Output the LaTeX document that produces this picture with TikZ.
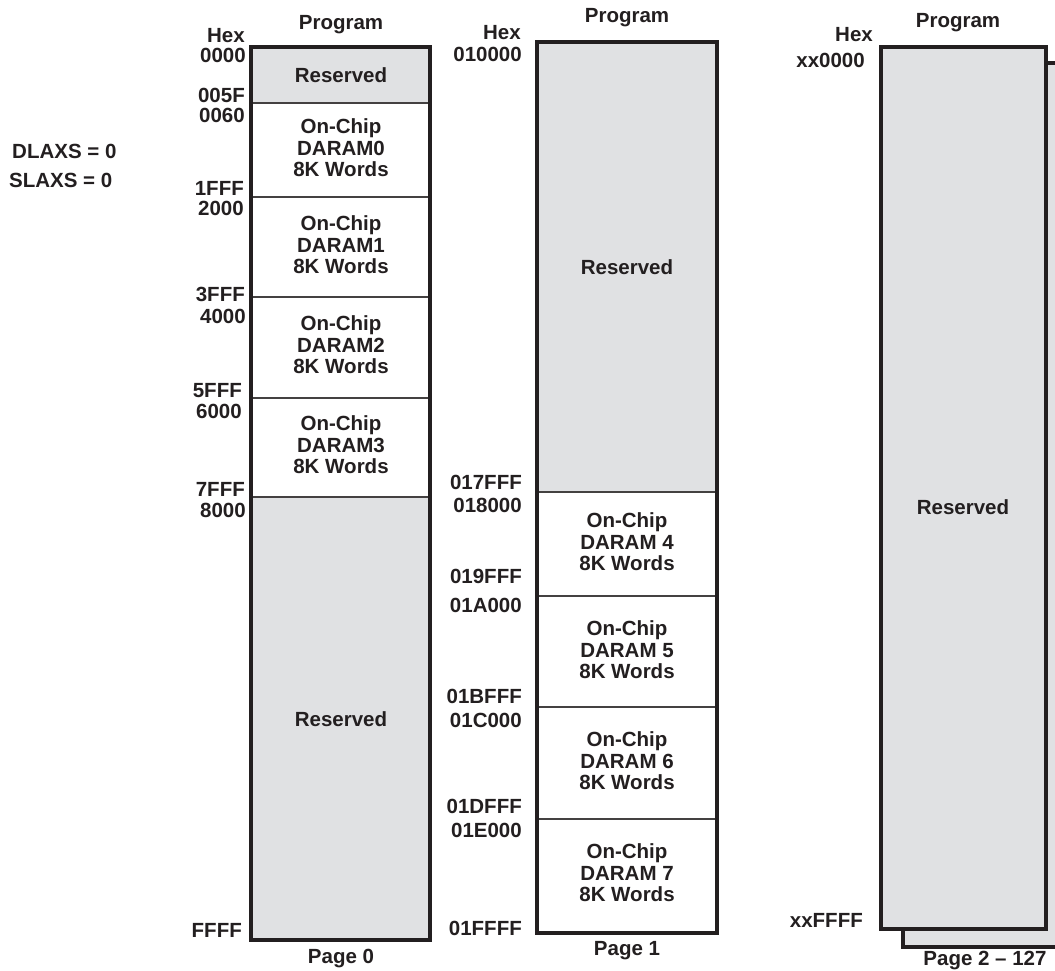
\documentclass[tikz,border=0pt]{standalone}
\usepackage{fontspec}
\setmainfont{Liberation Sans}
\definecolor{ink}{RGB}{35,31,32}
\definecolor{resv}{RGB}{224,225,227}
\begin{document}
\begin{tikzpicture}[x=1pt,y=-1pt,
  txt/.style={font=\fontsize{20.5}{21.5}\selectfont\bfseries, text=ink, inner sep=0pt, align=center},
  addr/.style={txt, anchor=base east},
  lbl/.style={txt, anchor=base},
  frame/.style={draw=ink, line width=3.2pt},
  divider/.style={draw=ink!85, line width=1.5pt},
  resfill/.style={fill=resv}]
\clip (0,0) rectangle (1055,971);
\fill[white] (0,0) rectangle (1055,971);

% left notes
\node[txt, anchor=base west] (dl) at (12,158) {DLAXS = 0};
\node[txt, anchor=base west] (sl) at (9,187) {SLAXS = 0};

% ---------- Page 0 ----------
\fill[resv] (251,47) rectangle (430,103);
\fill[resv] (251,497) rectangle (430,940);
\foreach \yy in {103,197,297,398,497} \draw[divider] (251,\yy) -- (430,\yy);
\draw[frame] (251,47) rectangle (430,940);
\node[lbl] (p0h) at (341,30) {Program};
\node[txt] (p0a) at (341,75) {Reserved};
\node[txt] (p0b) at (341,148) {On-Chip\\DARAM0\\8K Words};
\node[txt] (p0c) at (341,245) {On-Chip\\DARAM1\\8K Words};
\node[txt] (p0d) at (341,345) {On-Chip\\DARAM2\\8K Words};
\node[txt] (p0e) at (341,445) {On-Chip\\DARAM3\\8K Words};
\node[txt] (p0f) at (341,719) {Reserved};
\node[lbl] (p0p) at (341,963) {Page 0};
\node[addr] (a00) at (245,43) {Hex};
\node[addr] (a01) at (246,63) {0000};
\node[addr] (a02) at (245,103) {005F};
\node[addr] (a03) at (245,123) {0060};
\node[addr] (a04) at (244,196) {1FFF};
\node[addr] (a05) at (244,215) {2000};
\node[addr] (a06) at (245,301) {3FFF};
\node[addr] (a07) at (246,323) {4000};
\node[addr] (a08) at (242,397) {5FFF};
\node[addr] (a09) at (242,418) {6000};
\node[addr] (a10) at (245,496) {7FFF};
\node[addr] (a11) at (246,517) {8000};
\node[addr] (a12) at (242,937) {FFFF};

% ---------- Page 1 ----------
\fill[resv] (537,42) rectangle (717,492);
\foreach \yy in {492,596,707,819} \draw[divider] (537,\yy) -- (717,\yy);
\draw[frame] (537,42) rectangle (717,933);
\node[lbl] (p1h) at (627,23) {Program};
\node[txt] (p1a) at (627,267) {Reserved};
\node[txt] (p1b) at (627,542) {On-Chip\\DARAM 4\\8K Words};
\node[txt] (p1c) at (627,650) {On-Chip\\DARAM 5\\8K Words};
\node[txt] (p1d) at (627,761) {On-Chip\\DARAM 6\\8K Words};
\node[txt] (p1e) at (627,873) {On-Chip\\DARAM 7\\8K Words};
\node[lbl] (p1p) at (627,955) {Page 1};
\node[addr] (b00) at (521,40) {Hex};
\node[addr] (b01) at (522,62) {010000};
\node[addr] (b02) at (522,489) {017FFF};
\node[addr] (b03) at (522,512) {018000};
\node[addr] (b04) at (522,583) {019FFF};
\node[addr] (b05) at (522,612) {01A000};
\node[addr] (b06) at (522,703) {01BFFF};
\node[addr] (b07) at (522,727) {01C000};
\node[addr] (b08) at (522,813) {01DFFF};
\node[addr] (b09) at (522,837) {01E000};
\node[addr] (b10) at (522,935) {01FFFF};

% ---------- Page 2 - 127 ----------
\draw[frame, resfill] (903,63) rectangle (1075,947);
\draw[frame, resfill] (881,47) rectangle (1046,929);
\node[lbl] (p2h) at (958,28) {Program};
\node[txt] (p2a) at (963,507) {Reserved};
\node[lbl] (p2p) at (985,965) {Page 2 -- 127};
\node[addr] (c00) at (873,42) {Hex};
\node[addr] (c01) at (865,68) {xx0000};
\node[addr] (c02) at (863,927) {xxFFFF};
\end{tikzpicture}
\end{document}
